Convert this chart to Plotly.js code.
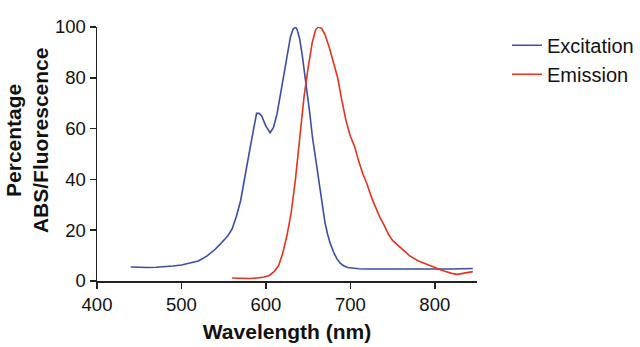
<!DOCTYPE html>
<html>
<head>
<meta charset="utf-8">
<script src="https://cdn.plot.ly/plotly-3.0.1.min.js"></script>
<style>html,body{margin:0;padding:0;background:#fff;}#chart{width:640px;height:347px;}</style>
</head>
<body>
<div id="chart"></div>
<script>
const excitationWavelength = [440,450,460,470,480,490,500,510,520,530,535,540,545,550,555,560,565,570,575,580,585,589,592,595,600,605,609,613,617,621,625,629,632,635,637,640,643,646,649,652,655,658,661,664,667,670,673,676,680,684,688,692,697,703,710,720,740,760,780,800,820,845];
const excitationValue = [5.5,5.3,5.3,5.4,5.6,5.9,6.3,7.0,7.9,9.8,11,12.5,14.2,16,17.8,20.5,25.4,31.5,40,50,59,66,66,65,61,58.4,60.5,65.5,73,81,89,96,99,100,99,95.3,89,82,73.5,66,57,50,42,35,28.5,23,18.5,15,11.5,8.8,7,6,5.3,5,4.8,4.7,4.7,4.7,4.6,4.6,4.7,4.9];
const emissionWavelength = [560,570,580,590,598,604,610,615,620,625,630,635,640,645,650,655,659,662,666,670,675,680,685,690,695,700,705,710,715,720,725,730,735,740,745,750,760,770,780,790,800,810,820,827,835,845];
const emissionValue = [1.2,1.1,1.0,1.2,1.6,2.2,3.8,6,11,18,27,40,57,72,84,94,99,100,99.5,97,92,86,80,71,63,57,53,47,42,38,33,29,25,22,18.5,16,12.8,10,8,6.7,5.2,4,3,2.6,3.1,3.7];
const xTicks = [400,500,600,700,800];
const yTicks = [0,20,40,60,80,100];

const traces = [
  {x: excitationWavelength, y: excitationValue, type:'scatter', mode:'lines', name:'Excitation',
   line:{color:'#3a4ea6', width:1.6}},
  {x: emissionWavelength, y: emissionValue, type:'scatter', mode:'lines', name:'Emission',
   line:{color:'#e8321f', width:1.6}}
];

const layout = {
  width:640, height:347,
  margin:{l:97, r:163, t:27, b:66, autoexpand:false},
  paper_bgcolor:'#fff', plot_bgcolor:'#fff',
  font:{family:'Liberation Sans, Arial, sans-serif', color:'#111', size:18},
  showlegend:true,
  legend:{x:1.079, y:1.005, xanchor:'left', yanchor:'top', traceorder:'normal',
          font:{size:20, color:'#111'}, bgcolor:'rgba(0,0,0,0)'},
  xaxis:{range:[400,850], tickvals:xTicks, ticktext:xTicks.map(String), ticks:'outside', ticklen:6, tickwidth:1.5,
         tickcolor:'#222', showline:true, linecolor:'#222', linewidth:1.5, showgrid:false, zeroline:false,
         tickfont:{size:18.5}, title:{text:'<b>Wavelength (nm)</b>', font:{size:21, color:'#111', family:'Liberation Sans, Arial, sans-serif'}, standoff:10}},
  yaxis:{range:[0,100], tickvals:yTicks, ticktext:yTicks.map(String), ticks:'outside', ticklen:6, tickwidth:1.5,
         tickcolor:'#222', showline:true, linecolor:'#222', linewidth:1.5, showgrid:false, zeroline:false,
         tickfont:{size:18.5}},
  annotations:[{text:'<b>Percentage</b><br><b>ABS/Fluorescence</b>', xref:'paper', yref:'paper', x:-0.184, y:0.555,
                xanchor:'center', yanchor:'middle', textangle:-90, showarrow:false,
                font:{size:21, color:'#111'}}]
};
Plotly.newPlot('chart', traces, layout, {displayModeBar:false, staticPlot:true});
</script>
</body>
</html>
